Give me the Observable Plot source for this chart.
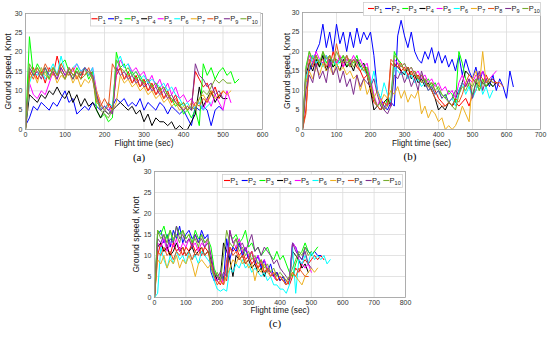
<!DOCTYPE html>
<html><head><meta charset="utf-8">
<script src="https://cdn.jsdelivr.net/npm/d3@7"></script>
<script src="https://cdn.jsdelivr.net/npm/@observablehq/plot@0.6"></script>
<style>
body{margin:0;background:#fff;}
#root{position:relative;width:550px;height:337px;overflow:hidden;background:#fff;font-family:"Liberation Sans",Arial,sans-serif;}
.panel{position:absolute;}
.cap{position:absolute;font-family:"Liberation Serif","DejaVu Serif",serif;font-size:11px;color:#000;transform:translate(-50%,-50%);white-space:nowrap;}
</style></head><body><div id="root"></div>
<script>
const names = ["P1","P2","P3","P4","P5","P6","P7","P8","P9","P10"];
const legendBase = "P";
const legendSub = ["1","2","3","4","5","6","7","8","9","10"];
const colors = ["#ff0000","#0000ff","#00ff00","#000000","#ff00ff","#00ffff","#edb120","#e8561f","#7e2f8e","#77ac30"];
const step = 10; // sampling interval, sec
const yTicks = [0,5,10,15,20,25,30];
const xTicksA = [0,100,200,300,400,500,600];
const xTicksB = [0,100,200,300,400,500,600,700];
const xTicksC = [0,100,200,300,400,500,600,700,800];
const xLabel = "Flight time (sec)";
const yLabel = "Ground speed, Knot";
const captions = ["(a)","(b)","(c)"];

// Panel (a)
const a1 = [0,14,16,13,15,12,16,14,19,15,13,16,14,15,13,16,14,15,9,6,5,7,5,14,16,13,15,12,14,11,13,10,12,9,11,8,10,7,9,6,7,5,6,15,13,11,12,9,11,8,10,9];
const a2 = [1,3,6,5,7,6,5,7,6,8,10,7,8,4,5,6,5,7,6,5,6,5,6,8,7,8,6,7,6,8,5,7,6,5,7,6,4,6,5,4,5,3,1,6,5,6,5,1,5,6,5];
const a3 = [0,24,14,17,15,16,13,16,14,17,18,15,13,16,14,16,13,15,5,3,4,2,3,20,16,17,14,15,13,14,12,13,11,12,10,11,9,8,6,7,4,5,3,5,1,17,14,16,13,15,16,14,15,12,13];
const a4 = [0,9,8,7,9,8,10,9,11,9,8,10,7,9,6,8,6,7,5,3,5,4,5,6,7,6,5,6,4,5,2,4,1,3,2,2,1,2,0,1,0,0,2,4,11,6,8,10,7,9,8,8];
const a5 = [1,12,9,8,10,9,12,15,13,16,14,16,15,17,15,16,14,16,10,7,5,6,4,15,18,16,17,15,16,14,15,12,14,11,13,10,12,9,11,8,9,7,8,6,7,5,8,6,9,7,5,10,7];
const a6 = [0,12,15,14,16,13,15,17,14,19,15,14,16,17,15,16,14,16,8,6,5,7,6,17,19,16,17,14,15,13,14,12,13,12,11,12,10,11,9,8,6,7,5,6,7,5,6,7];
const a7 = [0,13,15,12,16,14,13,15,12,14,13,15,12,14,11,13,12,14,10,7,5,6,5,7,14,12,13,11,12,10,11,9,10,8,9,7,8,6,7,5,6,5,7,6,8,9,7,10,8,9,10,9,10];
const a8 = [0,15,13,16,14,17,15,16,14,17,15,14,16,13,15,14,16,13,7,6,8,6,17,15,16,13,14,12,13,11,12,10,11,9,10,8,9,7,8,6,5,6,5,7,6,8,7,9,10];
const a9 = [0,16,14,15,13,16,14,15,13,16,14,15,13,15,14,16,15,14,9,5,6,5,4,16,14,15,13,14,12,13,11,12,10,11,9,10,8,9,7,6,5,6,5,17,14,13,11,12,9,10,8];
const a10 = [0,17,15,16,14,15,13,16,14,15,13,16,14,15,13,14,15,13,8,5,4,3,5,18,16,15,16,14,15,13,12,13,11,12,10,11,9,8,7,6,7,5,6,5,8,10,9,11,13,12,13,12,12];

// Panel (b)
const b1 = [0,5,17,19,16,18,17,19,16,20,17,18,16,19,17,18,16,15,13,14,10,7,6,5,7,6,17,16,17,15,16,14,15,13,14,12,13,11,12,10,8,7,6,7,6,7,6,7,8,6,9,10,13,12,14,12,13,12,11];
const b2 = [0,12,15,17,20,22,27,21,25,20,27,22,25,20,25,21,26,22,25,23,25,19,10,8,6,5,7,6,24,28,24,21,25,20,18,17,20,18,21,17,20,17,19,16,18,15,19,14,18,15,13,16,12,15,13,11,14,10,13,11,8,15,11];
const b3 = [0,16,20,17,19,16,20,17,19,16,18,17,19,16,18,17,19,16,17,15,12,8,6,7,5,8,6,20,18,17,15,16,14,15,13,14,12,13,11,12,10,9,8,10,9,7,20,17,13,11,9,12,10,13,11,12,11];
const b4 = [0,14,17,15,18,16,19,15,18,16,17,15,18,16,17,15,18,16,17,14,10,5,6,5,7,8,6,17,16,15,14,16,13,14,12,13,11,12,10,8,5,6,5,7,6,8,10,12,15,14,13,12,11,12,11,12,11,12];
const b5 = [0,15,19,17,20,18,17,19,16,18,17,19,16,18,17,19,17,18,16,17,13,9,6,8,5,7,6,18,17,16,17,15,16,14,15,13,14,12,13,11,12,10,11,9,10,8,12,14,11,13,12,14,13,15,12,13,14,15];
const b6 = [0,13,16,19,17,18,16,19,17,18,16,18,17,19,16,18,17,16,15,14,11,15,10,8,12,9,7,16,15,14,15,13,14,12,13,11,12,10,11,9,10,8,9,7,8,6,10,12,9,11,8,10,13,9,11,8,10];
const b7 = [0,12,15,13,16,14,17,15,16,14,17,15,16,14,15,13,14,10,13,9,11,8,10,7,9,8,10,9,11,8,10,7,9,8,10,4,6,3,5,4,2,3,0,1,0,1,3,6,4,2,13,15,11,20,12,13];
const b8 = [0,4,18,16,19,17,18,16,19,17,22,18,17,19,16,18,17,15,16,14,11,8,6,5,7,6,18,17,16,17,15,16,14,15,13,14,12,11,10,8,7,6,6,7,6,8,7,9,12,14,13,12,14,13,12,13,12,12,12,11];
const b9 = [0,10,14,12,17,13,15,12,18,14,16,12,15,11,13,9,14,11,13,12,11,13,9,6,5,4,6,14,13,15,12,14,11,13,10,15,12,10,11,9,10,8,9,7,8,10,9,12,11,13,8,12,15,10,13];
const b10 = [0,15,20,18,19,17,20,18,19,17,20,18,19,17,18,16,18,17,15,16,12,8,6,7,5,6,8,19,18,16,17,15,16,14,13,12,13,11,12,10,11,9,8,7,6,5,9,11,10,12,11,13,10,12,11,13,12];

// Panel (c)
const c1 = [0,10,13,11,12,10,13,11,12,10,12,11,13,11,12,10,12,11,9,5,4,3,5,4,12,11,12,10,11,9,10,8,9,7,8,6,7,6,5,6,4,5,4,3,5,7,6,8,9,8,9,10,9,10,9];
const c2 = [0,15,16,13,15,12,16,14,17,13,15,16,14,15,13,16,14,15,6,4,5,6,4,14,9,12,11,13,10,12,9,11,8,10,7,9,6,8,5,6,4,5,3,4,13,12,10,9,12,11,10,11,10,10];
const c3 = [0,16,15,17,14,16,13,17,15,16,14,15,13,16,14,15,13,14,12,7,5,6,4,5,15,14,15,13,14,16,12,13,11,12,10,11,12,10,9,11,9,10,8,6,5,8,10,11,13,11,10,11,12];
const c4 = [0,12,13,11,12,10,11,13,11,12,10,11,12,10,11,12,10,11,9,6,4,5,13,11,9,5,10,9,10,8,9,7,8,6,7,5,7,6,5,4,5,4,3,4,11,10,9,7,8,6];
const c5 = [0,13,12,14,11,13,12,14,11,13,12,14,12,13,11,13,12,14,10,5,4,6,3,8,16,13,12,14,11,12,10,11,9,10,8,9,7,6,5,4,5,4,3,4,13,12,9,8,7,8,6];
const c6 = [0,1,12,9,7,10,8,11,9,10,8,11,9,10,8,11,10,9,8,4,2,1.5,2,1.5,7,6,8,7,9,7,8,6,7,6,5,6,4,5,3,3,2,2,1,3,12,1,9,8,10,8,11,9,10,9,10,8,9];
const c7 = [0,9,8,10,7,9,8,10,7,9,8,10,8,5,8,9,8,7,8,6,5,4,3,5,7,9,8,10,8,9,7,8,4,7,6,8,6,5,6,4,5,4,3,5,6,5,4,3,5,6,7,6,7];
const c8 = [0,11,10,12,10,11,9,11,10,12,10,11,9,11,10,12,10,11,8,5,3,4,3,9,12,10,11,9,10,8,9,11,8,7,9,6,7,5,6,4,5,4,3,4,6,5,7,6,5,5];
const c9 = [0,14,13,15,12,14,13,17,14,15,13,14,12,15,13,14,12,13,10,6,5,4,6,5,16,13,14,12,13,11,13,15,11,12,10,12,11,10,8,9,7,6,5,4,13,11,10,9,11,8,7];
const c10 = [0,16,14,15,13,16,14,15,13,16,14,15,13,14,12,15,13,14,7,5,6,4,10,16,13,12,14,11,12,10,11,9,10,8,9,7,8,6,7,5,6,5,4,5,7,9,11,10,12,10,11];

const root = document.getElementById("root");
const FONT = "Liberation Sans, Arial, sans-serif";

function makePanel(series, xmax, xTicks, o) {
  const rows = [];
  series.forEach((arr, k) => arr.forEach((v, i) => rows.push({t: i * step, v, s: names[k]})));
  const chart = Plot.plot({
    width: o.w, height: o.h,
    marginLeft: o.ml, marginRight: o.mr, marginTop: o.mt, marginBottom: o.mb,
    style: {fontFamily: FONT, background: "transparent", color: "#262626", overflow: "visible"},
    x: {domain: [0, xmax], label: null},
    y: {domain: [0, 30], label: null},
    color: {domain: names, range: colors},
    marks: [
      Plot.gridX(xTicks, {stroke: "#dcdcdc", strokeOpacity: 1, strokeWidth: 0.8}),
      Plot.gridY(yTicks, {stroke: "#dcdcdc", strokeOpacity: 1, strokeWidth: 0.8}),
      Plot.line(rows, {x: "t", y: "v", z: "s", stroke: "s", strokeWidth: 1}),
      Plot.frame({stroke: "#a0a0a0", strokeWidth: 0.8}),
      Plot.axisX(xTicks, {tickSize: 0, tickPadding: 3, fontSize: 7, label: null, fill: "#333"}),
      Plot.axisY(yTicks, {tickSize: 0, tickPadding: 3, fontSize: 7, label: null, fill: "#333"}),
      Plot.text([xLabel], {frameAnchor: "bottom", dy: o.xl, fontSize: 8.3, fill: "#111"}),
      Plot.text([yLabel], {frameAnchor: "left", textAnchor: "middle", dx: o.yl, rotate: -90, fontSize: 8.5, fill: "#111"})
    ]
  });
  chart.classList.add("panel");
  chart.style.left = o.left + "px";
  chart.style.top = o.top + "px";
  root.appendChild(chart);
}

function makeLegend(left, top, width, height, pitch, pad) {
  const svg = d3.create("svg")
    .attr("width", width).attr("height", height)
    .style("position", "absolute").style("left", left + "px").style("top", top + "px");
  svg.append("rect").attr("x", 0.5).attr("y", 0.5).attr("width", width - 1).attr("height", height - 1)
    .attr("fill", "#fff").attr("stroke", "#cfcfcf").attr("stroke-width", 0.8);
  const ym = height / 2 - 0.5;
  names.forEach((n, k) => {
    const x0 = pad + k * pitch;
    svg.append("line").attr("x1", x0).attr("x2", x0 + 6).attr("y1", ym).attr("y2", ym)
      .attr("stroke", colors[k]).attr("stroke-width", 1.1);
    const t = svg.append("text").attr("x", x0 + 6.3).attr("y", ym + 2.6)
      .attr("font-size", 7.5).attr("font-family", FONT).attr("fill", "#222");
    t.append("tspan").text(legendBase);
    t.append("tspan").attr("font-size", 5.5).attr("dy", 2.2).text(legendSub[k]);
  });
  root.appendChild(svg.node());
}

function caption(text, x, y) {
  const d = document.createElement("div");
  d.className = "cap";
  d.textContent = text;
  d.style.left = x + "px";
  d.style.top = y + "px";
  root.appendChild(d);
}

makePanel([a1,a2,a3,a4,a5,a6,a7,a8,a9,a10], 600, xTicksA,
  {left: 0, top: 0, w: 270, h: 160, ml: 25, mr: 8, mt: 13, mb: 31, xl: 16, yl: -17.5});
makePanel([b1,b2,b3,b4,b5,b6,b7,b8,b9,b10], 700, xTicksB,
  {left: 275, top: 0, w: 275, h: 160, ml: 27, mr: 10, mt: 12, mb: 31, xl: 16.5, yl: -15.6});
makePanel([c1,c2,c3,c4,c5,c6,c7,c8,c9,c10], 800, xTicksC,
  {left: 130, top: 160, w: 280, h: 165, ml: 24, mr: 5, mt: 11, mb: 28, xl: 15.5, yl: -18});

makeLegend(90, 12, 171, 14.5, 16.55, 1.5);
makeLegend(363, 2, 178, 14, 17.15, 5);
makeLegend(222, 174, 181, 14, 17.7, 2);

caption(captions[0], 139, 157);
caption(captions[1], 410, 156);
caption(captions[2], 275, 323);
</script></body></html>
